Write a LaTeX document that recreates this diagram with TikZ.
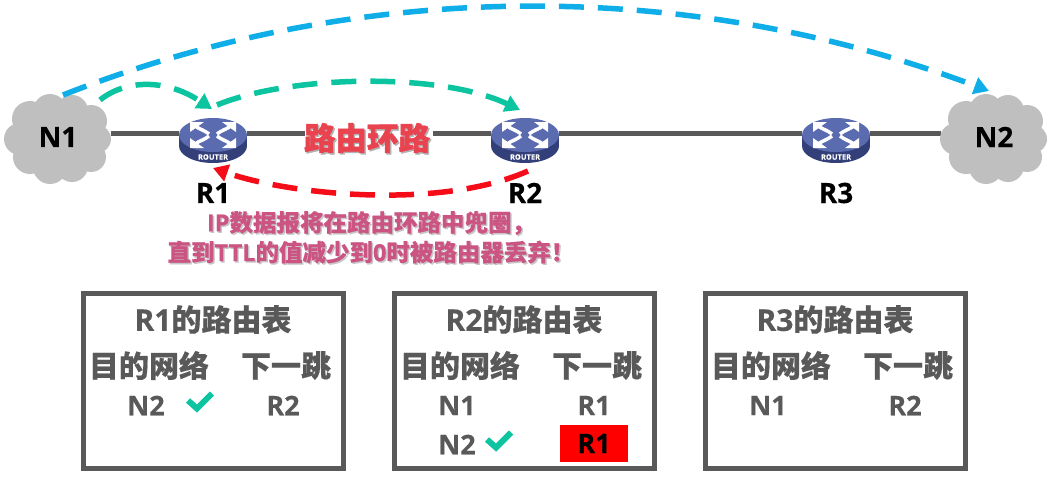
\documentclass[tikz,border=0pt]{standalone}
\usepackage{fontspec}
\setmainfont{Noto Sans CJK SC}[BoldFeatures={FakeBold=0.5}]
\newfontfamily\latinfont{Open Sans}[BoldFeatures={FakeBold=0.4}]
\newfontfamily\loopfont{Noto Sans CJK SC}[BoldFeatures={FakeBold=1.5}]
\newcommand{\lat}[1]{{\latinfont #1}}
\usepackage{xcolor}
\usepackage{tikz}
\usetikzlibrary{calc}
\usetikzlibrary{arrows.meta}
\definecolor{linkgray}{HTML}{595959}
\definecolor{cloudgray}{HTML}{BFBFBF}
\definecolor{routerblue}{HTML}{5A6BB0}
\definecolor{routerdark}{HTML}{333F78}
\definecolor{hopgreen}{HTML}{0CC4A0}
\definecolor{hopblue}{HTML}{0FAEE8}
\definecolor{hopred}{HTML}{F40D18}
\definecolor{loopred}{HTML}{EA4350}
\definecolor{notepink}{HTML}{CB5482}
\tikzset{
  every node/.style={font=\bfseries},
  netlabel/.style={font=\fontsize{28}{28}\selectfont\bfseries\latinfont,text=black},
  cloudnode/.style={minimum width=106pt,minimum height=78pt,inner sep=0pt},
  routernode/.style={minimum width=68pt,minimum height=32pt,inner sep=0pt},
  routername/.style={font=\fontsize{28}{28}\selectfont\bfseries\latinfont,text=black,below of=#1,node distance=60pt},
  link/.style={linkgray,line width=5pt},
  hop/.style={line width=5.5pt,dash pattern=on 25pt off 14pt,-{Triangle[length=15pt,width=17pt]}},
  tablebox/.style={draw=linkgray,line width=5pt,minimum width=260pt,minimum height=175pt,inner sep=0pt},
  tabletext/.style={font=\fontsize{30}{30}\selectfont\bfseries,text=linkgray},
  rowtext/.style={font=\fontsize{27}{27}\selectfont\bfseries\latinfont,text=linkgray},
  notetext/.style={font=\fontsize{23.5}{23.5}\selectfont\bfseries,text=notepink},
  looptext/.style={font=\fontsize{31.5}{31.5}\selectfont\bfseries\loopfont},
  routericon/.pic={
    \fill[routerdark] (0,13) ellipse[x radius=34,y radius=17];
    \fill[routerdark] (-34,2) rectangle (34,13);
    \fill[routerblue] (0,2) ellipse[x radius=34,y radius=17];
    \foreach \sx/\sy in {1/1,-1/1,1/-1,-1/-1}{
      \draw[white,line width=3.5pt] (\sx*4,2+\sy*1) .. controls (\sx*9,2+\sy*5) and (\sx*12,2+\sy*5) .. (\sx*18,2+\sy*9);
      \fill[white] (\sx*23,2+\sy*13) -- (\sx*9,2+\sy*13) -- (\sx*23,2+\sy*3) -- cycle;
    }
    \node[text=white,font=\fontsize{7.5}{7.5}\selectfont\bfseries\latinfont] at (0,24) {ROUTER};
  },
  cloudicon/.pic={
    \fill[cloudgray] (0,4) ellipse[x radius=40,y radius=30];
    \foreach \cx/\cy/\cr in {-38/6/16,-28/-14/18,-8/-22/17,14/-22/16,33/-12/16,39/6/14,33/24/15,14/33/16,-8/34/17,-28/24/17}
      \fill[cloudgray] (\cx,\cy) circle[radius=\cr];
  },
  checkicon/.pic={
    \draw[hopgreen,line width=6pt] (-11,-1) -- (-2,7) -- (13,-8);
  }
}
\begin{document}
\begin{tikzpicture}[x=1pt,y=-1pt]
\useasboundingbox (0,0) rectangle (1058,479);

\node[cloudnode] (N1) at (58,133) {};
\node[routernode] (R1) at (213,133) {};
\node[routernode] (R2) at (525,133) {};
\node[routernode] (R3) at (836,133) {};
\node[cloudnode] (N2) at (994,133) {};

\draw[link] (N1) -- (R1);
\draw[link] (R1) -- (R2);
\draw[link] (R2) -- (R3);
\draw[link] (R3) -- (N2);

\pic at (N1) {cloudicon};
\pic at (N2) {cloudicon};
\pic at (R1) {routericon};
\pic at (R2) {routericon};
\pic at (R3) {routericon};

\node[netlabel] at ($(N1)+(0,4)$) (N1text) {N1};
\node[netlabel] at ($(N2)+(0,4)$) (N2text) {N2};
\node[routername=R1] (R1name) {R1};
\node[routername=R2] (R2name) {R2};
\node[routername=R3] (R3name) {R3};

%free ends of the hops
\coordinate (blueA) at ($(N1)+(5,-38)$);
\coordinate (blueB) at ($(N2)+(-5,-42)$);
\coordinate (greenA) at ($(N1)+(42,-33)$);
\coordinate (greenB) at ($(R1)+(-1,-24)$);
\coordinate (greenC) at ($(R1)+(4,-28)$);
\coordinate (greenD) at ($(R2)+(-5,-23)$);
\coordinate (redA) at ($(R2)+(3,38)$);
\coordinate (redB) at ($(R1)+(0,35)$);

\draw[hop,hopblue] (blueA) .. controls (360,-22) and (690,-22) .. (blueB);
\draw[hop,hopgreen] (greenA) .. controls (125,80) and (165,78) .. (greenB);
\draw[hop,hopgreen] (greenC) .. controls (290,75) and (440,72) .. (greenD);
\draw[hop,hopred] (redA) .. controls (440,210) and (290,195) .. (redB);

\node[looptext,text=gray!60,fill=white,inner sep=1pt] (loopshadow) at (368.5,139.5) {路由环路};
\node[looptext,text=loopred] (looplabel) at (367,138) {路由环路};

\node[notetext,text=gray!45] (note1bg) at (372.5,224.5) {\lat{IP}数据报将在路由环路中兜圈，};
\node[notetext] (note1) at (371,223) {\lat{IP}数据报将在路由环路中兜圈，};
\node[notetext,text=gray!45] (note2bg) at (372.5,253.5) {直到\lat{TTL}的值减少到\lat{0}时被路由器丢弃！};
\node[notetext] (note2) at (371,252) {直到\lat{TTL}的值减少到\lat{0}时被路由器丢弃！};

\node[tablebox] (box1) at (213,380.5) {};
\node[tablebox,right of=box1,node distance=311pt] (box2) {};
\node[tablebox,right of=box2,node distance=311pt] (box3) {};

%R1 table
\node[tabletext] (title1) at ($(box1.north)+(0,29)$) {\lat{R1}的路由表};
\node[tabletext] (dest1) at ($(box1.north)+(-64,75)$) {目的网络};
\node[tabletext] (hop1) at ($(box1.north)+(73,75)$) {下一跳};
\node[rowtext,below of=dest1,node distance=40pt,xshift=-3pt] (dest1a) {N2};
\node[rowtext,below of=hop1,node distance=40pt,xshift=-3pt] (hop1a) {R2};
\pic at ($(dest1a)+(53,-4)$) {checkicon};

%R2 table
\node[tabletext] (title2) at ($(box2.north)+(0,29)$) {\lat{R2}的路由表};
\node[tabletext] (dest2) at ($(box2.north)+(-64,75)$) {目的网络};
\node[tabletext] (hop2) at ($(box2.north)+(73,75)$) {下一跳};
\node[rowtext,below of=dest2,node distance=40pt,xshift=-3pt] (dest2a) {N1};
\node[rowtext,below of=hop2,node distance=40pt,xshift=-3pt] (hop2a) {R1};
\node[rowtext,below of=dest2a,node distance=39pt] (dest2b) {N2};
\node[rowtext,text=black,fill=red,minimum width=68pt,minimum height=37pt,inner sep=0pt,below of=hop2a,node distance=38pt] (hop2b) {R1};
\pic at ($(dest2b)+(41,-4)$) {checkicon};

%R3 table
\node[tabletext] (title3) at ($(box3.north)+(0,29)$) {\lat{R3}的路由表};
\node[tabletext] (dest3) at ($(box3.north)+(-64,75)$) {目的网络};
\node[tabletext] (hop3) at ($(box3.north)+(73,75)$) {下一跳};
\node[rowtext,below of=dest3,node distance=40pt,xshift=-3pt] (dest3a) {N1};
\node[rowtext,below of=hop3,node distance=40pt,xshift=-3pt] (hop3a) {R2};
\end{tikzpicture}
\end{document}
